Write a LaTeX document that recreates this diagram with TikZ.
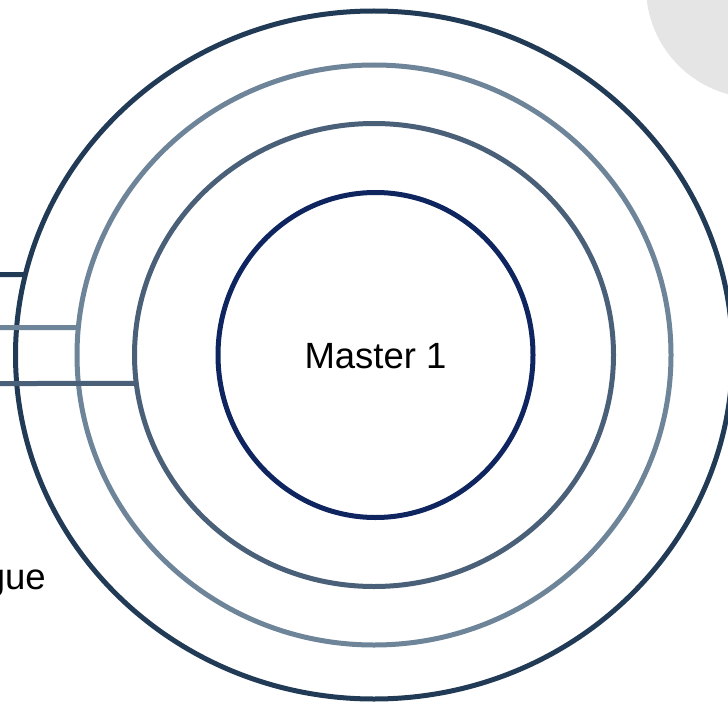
\documentclass[tikz,border=0pt]{standalone}
\usepackage{fontspec}
\setmainfont{Liberation Sans}
\usepackage{tikz}
\usetikzlibrary{calc}

\begin{document}
\begin{tikzpicture}
		[x=1pt,y=-1pt,line cap=butt,
		%Styles
		ring/.style={line width=5pt},
		link line/.style={line width=5pt},
		label text/.style={inner sep=0pt,font=\fontsize{36.5}{42}\selectfont}
		]
		
		%Colors
		\definecolor{ringouter}{HTML}{213A55}
		\definecolor{ringlight}{HTML}{6D8499}
		\definecolor{ringmid}{HTML}{4A6078}
		\definecolor{ringinner}{HTML}{0E2560}
		\colorlet{cornergray}{black!10}
		
		\useasboundingbox (0,0) rectangle (728,706);
		
		%The graphic
		\fill[cornergray] (757,-13) circle (111);
		
		\coordinate (c) at (374,355);
		\draw[ring,ringouter] (c) ellipse [x radius=358.5, y radius=344];
		\draw[ring,ringlight] (c) ellipse [x radius=297, y radius=290];
		\draw[ring,ringmid] (c) ellipse [x radius=239.5, y radius=231.5];
		\draw[ring,ringinner] (375.5,355) ellipse [x radius=157.5, y radius=162.5];
		
		\node[label text] (master) at (375.5,356) {Master 1};
		\node[label text,anchor=base east] (tail) at (46,589) {gue};
		
		%links to the rings
		\coordinate (a1) at (0,274.5);
		\coordinate (a2) at (0,327.5);
		\coordinate (a3) at (0,383.5);
		\coordinate (b1) at ($(c)+(193.53:358.5 and 344)$);
		\coordinate (b2) at ($(c)+(185.44:297 and 290)$);
		\coordinate (b3) at ($(c)+(172.93:239.5 and 231.5)$);
		\draw[link line,ringouter] (a1) -- (b1);
		\draw[link line,ringlight] (a2) -- (b2);
		\draw[link line,ringmid] (a3) -- (b3);
	\end{tikzpicture}
\end{document}
